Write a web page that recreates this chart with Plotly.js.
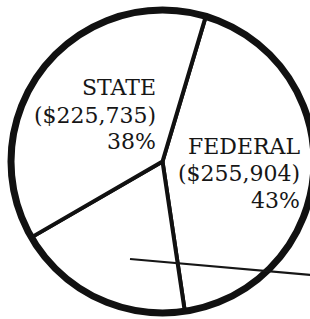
<!DOCTYPE html>
<html>
<head>
<meta charset="utf-8">
<script src="https://cdn.plot.ly/plotly-3.0.1.min.js"></script>
<style>
  html, body { margin: 0; padding: 0; background: #ffffff; overflow: hidden; }
  #chart { width: 330px; height: 330px; }
</style>
</head>
<body>
<div id="chart"></div>
<script>
const categories = ['FEDERAL', 'LOCAL', 'STATE'];
const amounts = [255904, 113000, 225735];
const percents = [43, 19, 38];
const shownLabels = ['FEDERAL', 'STATE'];

const W = 330, H = 330;
const px = v => v / W;
const py = v => 1 - v / H;

const dom = { x: [px(11), px(314)], y: [py(313), py(10)] };

const pieTrace = {
  type: 'pie',
  values: amounts,
  labels: categories,
  sort: false,
  direction: 'clockwise',
  rotation: 16.6,
  textinfo: 'none',
  hoverinfo: 'none',
  showlegend: false,
  domain: dom,
  marker: { colors: categories.map(() => '#ffffff'), line: { color: '#111111', width: 4 } }
};

const ringTrace = {
  type: 'pie',
  values: [1],
  labels: ['ring'],
  textinfo: 'none',
  hoverinfo: 'none',
  showlegend: false,
  domain: dom,
  marker: { colors: ['rgba(0,0,0,0)'], line: { color: '#111111', width: 7 } }
};

const font = { family: 'DejaVu Serif, serif', size: 22, color: '#161616' };
function fmt(n) { return '($' + n.toLocaleString('en-US') + ')'; }

// label blocks: right edge and middle of each line (pixels)
const blocks = {
  STATE: { right: 158, lines: [88, 115, 141] },
  FEDERAL: { right: 302, lines: [146, 173, 200] }
};
const annotations = [];
shownLabels.forEach(name => {
  const i = categories.indexOf(name);
  const texts = [name, fmt(amounts[i]), percents[i] + '%'];
  const b = blocks[name];
  texts.forEach((t, k) => {
    annotations.push({
      xref: 'paper', yref: 'paper', x: px(b.right), y: py(b.lines[k]),
      xanchor: 'right', yanchor: 'middle', showarrow: false, align: 'right',
      text: t, font: font
    });
  });
});

const layout = {
  width: W, height: H,
  margin: { l: 0, r: 0, t: 0, b: 0 },
  paper_bgcolor: '#ffffff',
  plot_bgcolor: '#ffffff',
  showlegend: false,
  annotations: annotations,
  shapes: [{
    type: 'line', xref: 'paper', yref: 'paper',
    x0: px(130), y0: py(259), x1: px(312), y1: py(275),
    line: { color: '#161616', width: 2.2 }
  }]
};

Plotly.newPlot('chart', [pieTrace, ringTrace], layout, { staticPlot: true, displayModeBar: false });
</script>
</body>
</html>
